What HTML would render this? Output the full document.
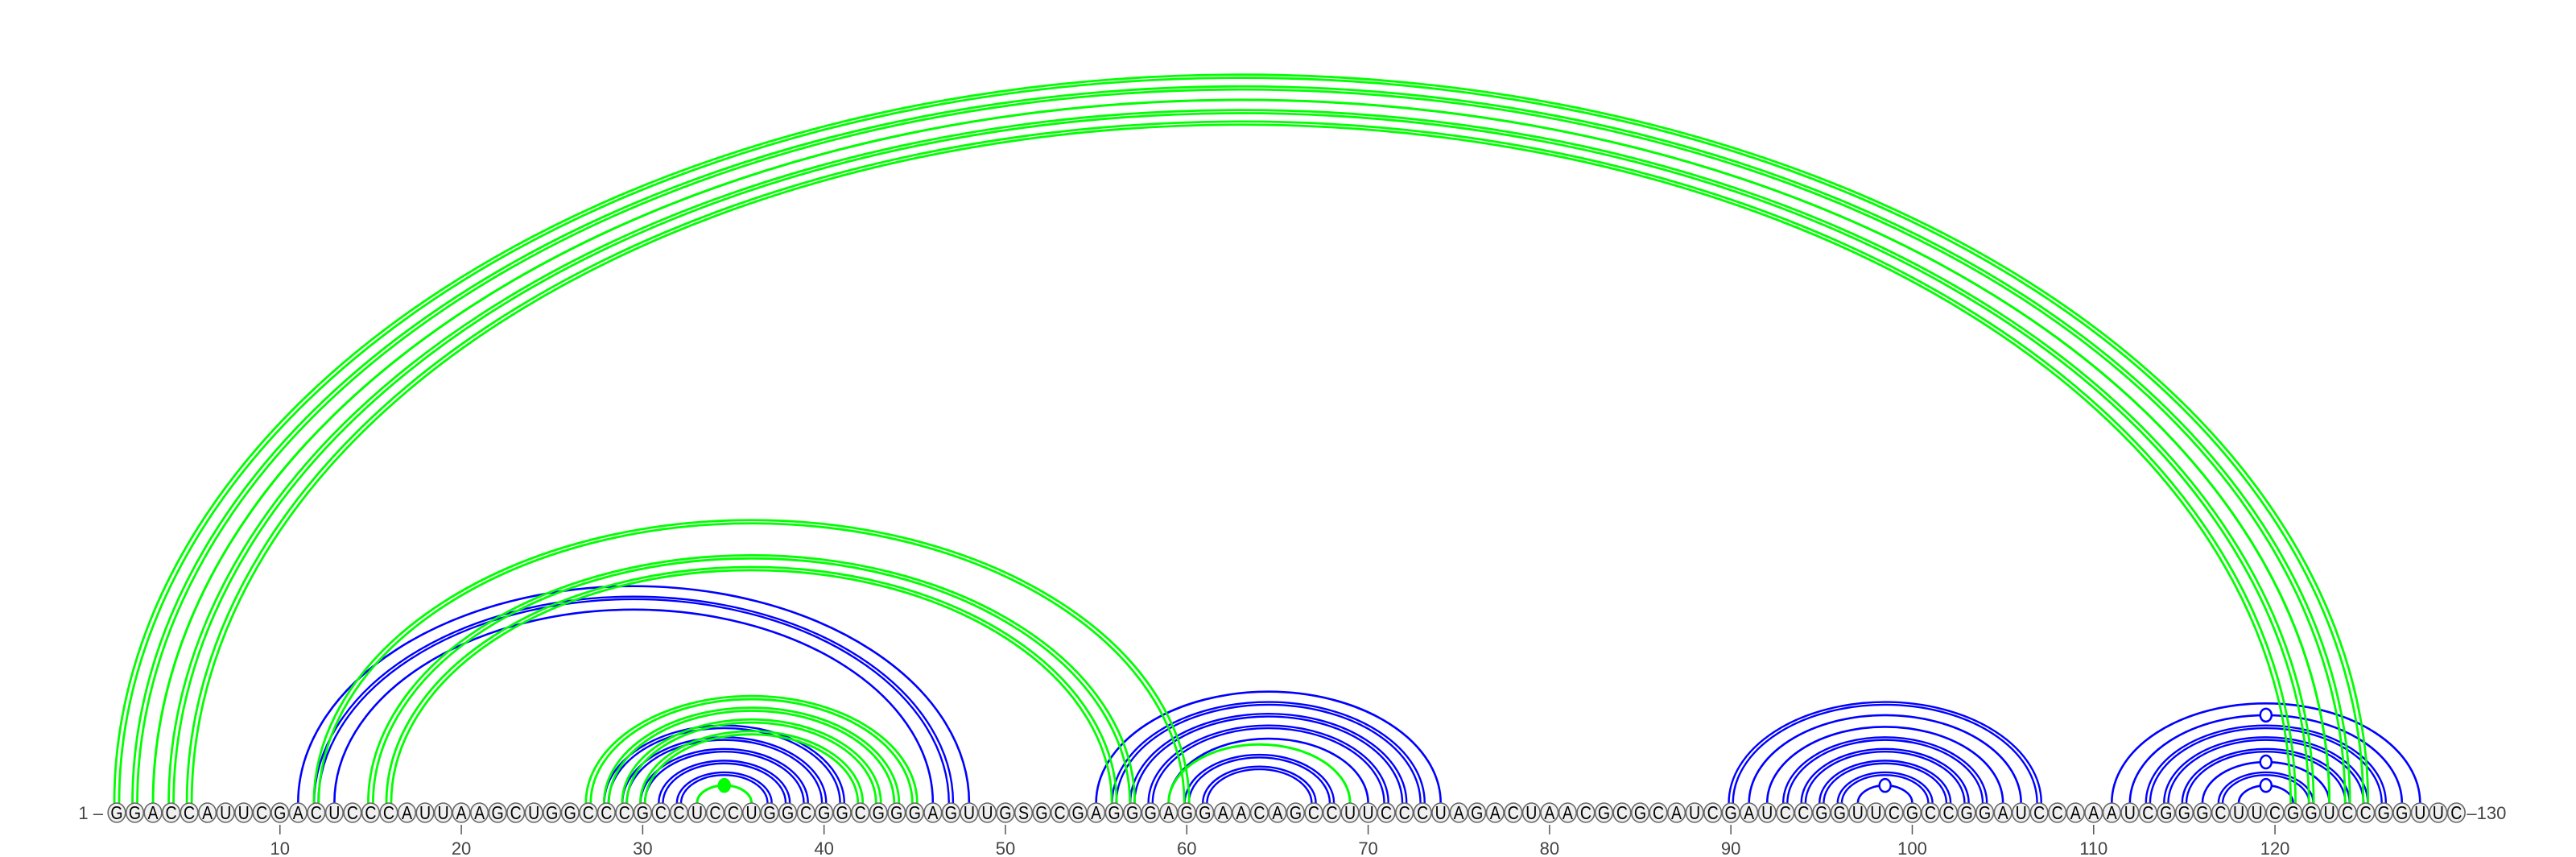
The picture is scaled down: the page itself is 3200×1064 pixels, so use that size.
<!DOCTYPE html>
<html><head><meta charset="utf-8"><style>
html,body{margin:0;padding:0;background:#fff;}
svg{display:block;}
text{font-family:"Liberation Sans",sans-serif;}
</style></head><body>
<svg id="chart" width="3200" height="1064" viewBox="0 0 3200 1064" xmlns="http://www.w3.org/2000/svg">
<g id="arcs"></g>
<g id="bases"></g>
<g id="axis"></g>
</svg>
<script>
const sequence = "GGACCAUUCGACUCCCAUUAAGCUGGCCCGCCUCCUGGCGGCGGGAGUUGSGCGAGGGAGGAACAGCCUUCCCUAGACUAACGCGCAUCGAUCCGGUUCGCCGGAUCCAAAUCGGGCUUCGGUCCGGUUC";
const tickPositions = [10,20,30,40,50,60,70,80,90,100,110,120];
const blueI = [11,12,13,28,29,30,31,32,55,56,57,58,59,60,61,90,91,92,93,94,95,96,97,111,112,113,114,115,116,117,118];
const blueJ = [48,47,46,41,40,39,38,37,74,73,72,71,70,68,67,107,106,105,104,103,102,101,100,128,127,126,125,124,123,122,121];
const blueDouble = [0,1,0,1,1,1,1,1,0,1,1,1,0,1,1,1,0,0,1,1,1,1,0,0,0,1,1,1,0,1,0];
const blueMarker = [0,0,0,0,0,0,0,0,0,0,0,0,0,0,0,0,0,0,0,0,0,0,1,0,1,0,0,0,1,0,1];
const greenI = [1,2,3,4,5,12,15,16,27,28,29,30,33,59];
const greenJ = [125,124,123,122,121,60,57,56,45,44,43,42,36,69];
const greenDouble = [1,1,0,1,1,1,1,1,1,1,1,1,0,0];
const greenMarker = [0,0,0,0,0,0,0,0,0,0,0,0,2,0];

const NS="http://www.w3.org/2000/svg";
const x0=145, dx=22.53, cy=1009, arcY=997, ratio=0.323;
function px(i){return x0+(i-1)*dx;}
function mk(tag,attrs,parent){const e=document.createElementNS(NS,tag);for(const k in attrs)e.setAttribute(k,attrs[k]);parent.appendChild(e);return e;}
const arcs=document.getElementById('arcs');
function drawArc(i,j,color,dbl,marker,name,isGreen){
  const a=px(i), b=px(j), c=(a+b)/2, w=(b-a)/2;
  const off = isGreen?3:2.6;
  const offs = dbl? [-off,off] : [0];
  offs.forEach(o=>{
    const r=w+o, h=(b-a)*ratio + o*2*ratio;
    const sw = dbl ? (isGreen?2.8:2.4) : (isGreen?3:2.6);
    const p=mk('path',{d:`M${c-r},${arcY} A${r},${h} 0 0 1 ${c+r},${arcY}`,fill:'none',stroke:color,'stroke-width':sw},arcs);
    
    
  });
  if(marker){
    const h=(b-a)*ratio;
    const m=mk('ellipse',{cx:c,cy:arcY-h,rx:7,ry:8,fill:marker===2?color:'#fff',stroke:color,'stroke-width':2.5},arcs);
    
    
  }
}
for(let k=0;k<blueI.length;k++) drawArc(blueI[k],blueJ[k],'#0000ff',blueDouble[k],blueMarker[k],'blue-pair-arc',false);
for(let k=0;k<greenI.length;k++) drawArc(greenI[k],greenJ[k],'#00ff00',greenDouble[k],greenMarker[k],'green-pair-arc',true);

const bases=document.getElementById('bases');
for(let i=1;i<=sequence.length;i++){
  const g=mk('g',{},bases);
  
  
  mk('ellipse',{cx:px(i),cy:cy,rx:10.8,ry:12,fill:'#f0f0f0',stroke:'#666','stroke-width':1.6},g);
  const t=mk('text',{x:px(i),y:cy+8,'text-anchor':'middle','font-size':23,fill:'#000',transform:`translate(${px(i)},0) scale(0.85,1) translate(${-px(i)},0)`},g);
  t.textContent=sequence[i-1];
}
const axis=document.getElementById('axis');
tickPositions.forEach(p=>{
  const l=mk('line',{x1:px(p),x2:px(p),y1:1024,y2:1036,stroke:'#555','stroke-width':1.5},axis);
  
  
  const t=mk('text',{x:px(p),y:1061,'text-anchor':'middle','font-size':22,fill:'#444'},axis);
  
  
  t.textContent=p;
});
const s=mk('text',{x:128,y:1017,'text-anchor':'end','font-size':22,fill:'#444'},axis);


s.textContent='1 –';
const e=mk('text',{x:px(sequence.length)+13,y:1017,'text-anchor':'start','font-size':22,fill:'#444'},axis);


e.textContent='–130';
</script>
</body></html>
